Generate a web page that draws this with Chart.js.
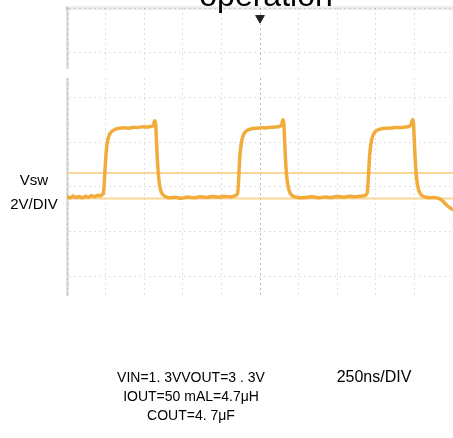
<!DOCTYPE html>
<html>
<head>
<meta charset="utf-8">
<script src="https://cdn.jsdelivr.net/npm/chart.js@4/dist/chart.umd.min.js"></script>
<style>
  html, body { margin: 0; padding: 0; background: #ffffff; }
  #wrap { position: relative; width: 453px; height: 438px; overflow: hidden; }
  canvas { display: block; }
</style>
</head>
<body>
<div id="wrap"><canvas id="c" width="459" height="438"></canvas></div>
<script>
// ---- data (time in ns, voltage in V) ----
const timeNs = [
  0, 20, 40, 60, 80, 100, 120, 140, 160, 180, 200, 215, 228,
  235, 240, 245, 250, 256, 262, 270, 280, 295, 315, 340,
  370, 400, 430, 460, 490, 520, 545, 560, 568, 574,
  578, 583, 588, 594, 600, 608, 620, 640, 665,
  700, 740, 780, 820, 860, 900, 940, 980, 1020, 1060, 1090,
  1105, 1110, 1115, 1120, 1126, 1133, 1142, 1155, 1175, 1200,
  1230, 1260, 1290, 1320, 1350, 1375, 1390, 1398, 1404,
  1408, 1413, 1418, 1424, 1431, 1440, 1455, 1480, 1510,
  1550, 1590, 1630, 1670, 1710, 1750, 1790, 1830, 1870, 1910, 1935,
  1945, 1950, 1955, 1960, 1966, 1973, 1982, 1995, 2015, 2040,
  2070, 2100, 2130, 2160, 2190, 2215, 2230, 2238, 2244,
  2248, 2253, 2258, 2264, 2271, 2280, 2295, 2320, 2345,
  2370, 2395, 2415, 2435, 2455, 2475, 2500
];
const vswVolts = [
  0.05, 0.00, 0.08, 0.02, 0.06, 0.00, 0.07, 0.03, 0.10, 0.05, 0.12, 0.08, 0.15,
  0.20, 0.50, 1.10, 1.70, 2.20, 2.50, 2.75, 2.90, 3.00, 3.08, 3.12,
  3.14, 3.12, 3.16, 3.15, 3.18, 3.17, 3.20, 3.25, 3.45, 3.30,
  2.80, 2.00, 1.40, 0.90, 0.55, 0.30, 0.15, 0.05, 0.00,
  0.03, -0.02, 0.04, 0.00, 0.05, 0.02, 0.06, 0.03, 0.07, 0.04, 0.10,
  0.20, 0.60, 1.30, 1.90, 2.30, 2.60, 2.80, 2.95, 3.05, 3.10,
  3.12, 3.14, 3.13, 3.16, 3.17, 3.20, 3.28, 3.50, 3.35,
  2.80, 2.00, 1.40, 0.90, 0.55, 0.30, 0.12, 0.04, 0.00,
  0.02, 0.05, 0.00, 0.04, 0.02, 0.06, 0.03, 0.07, 0.05, 0.08, 0.12,
  0.25, 0.70, 1.30, 1.90, 2.30, 2.60, 2.80, 2.95, 3.05, 3.10,
  3.12, 3.13, 3.15, 3.14, 3.17, 3.20, 3.30, 3.50, 3.35,
  2.80, 2.00, 1.40, 0.90, 0.55, 0.30, 0.12, 0.04, 0.00,
  0.02, 0.00, -0.05, -0.15, -0.30, -0.42, -0.55
];
const cursorLevels = [1.11, -0.03];          // two horizontal cursor lines (V)
const triggerPoint = [{ x: 1250, y: 8.05 }];  // trigger marker
const xGridNs = [0, 250, 500, 750, 1000, 1250, 1500, 1750, 2000, 2250, 2500];
const yGridVolts = [-3.5, -1.5, 0.5, 2.5, 4.5, 6.5, 8.5];
const gapBand = [5.38, 5.78];

const titleText = 'operation';
const yLabelLines = ['Vsw', '2V/DIV'];
const condLines = ['VIN=1. 3VVOUT=3 . 3V', 'IOUT=50 mAL=4.7μH', 'COUT=4. 7μF'];
const timeBaseText = '250ns/DIV';

const tracePoints = timeNs.map((t, i) => ({ x: t, y: vswVolts[i] }));
const FONT = '"Liberation Sans", Arial, Helvetica, sans-serif';

const annotate = {
  id: 'annotate',
  beforeDatasetsDraw(chart) {
    const { ctx, chartArea, scales } = chart;
    const y1 = scales.y.getPixelForValue(gapBand[1]);
    const y2 = scales.y.getPixelForValue(gapBand[0]);
    ctx.save();
    ctx.fillStyle = '#ffffff';
    ctx.fillRect(chartArea.left - 3, y1, chartArea.right - chartArea.left + 6, y2 - y1);
    ctx.restore();
  },
  afterDraw(chart) {
    const { ctx } = chart;
    ctx.save();
    ctx.fillStyle = '#000000';
    ctx.textAlign = 'center';
    ctx.textBaseline = 'alphabetic';
    ctx.font = '32px ' + FONT;
    ctx.fillText(titleText, 266, 6);
    ctx.textBaseline = 'middle';
    ctx.font = '15px ' + FONT;
    ctx.fillText(yLabelLines[0], 34, 181);
    ctx.fillText(yLabelLines[1], 34, 205);
    ctx.font = '14px ' + FONT;
    ctx.fillText(condLines[0], 191, 378);
    ctx.fillText(condLines[1], 191, 397);
    ctx.fillText(condLines[2], 191, 416);
    ctx.font = '16px ' + FONT;
    ctx.fillText(timeBaseText, 374, 378);
    ctx.restore();
  }
};

new Chart(document.getElementById('c'), {
  type: 'line',
  data: {
    datasets: [
      {
        data: tracePoints,
        borderColor: 'rgba(240,168,50,0.95)',
        borderWidth: 3.5,
        pointRadius: 0,
        cubicInterpolationMode: 'monotone',
        order: 1
      },
      {
        data: [{ x: xGridNs[0], y: cursorLevels[0] }, { x: xGridNs[xGridNs.length - 1], y: cursorLevels[0] }],
        borderColor: 'rgba(248,200,120,0.75)',
        borderWidth: 2,
        pointRadius: 0,
        order: 2
      },
      {
        data: [{ x: xGridNs[0], y: cursorLevels[1] }, { x: xGridNs[xGridNs.length - 1], y: cursorLevels[1] }],
        borderColor: 'rgba(248,200,120,0.75)',
        borderWidth: 2,
        pointRadius: 0,
        order: 2
      },
      {
        data: triggerPoint,
        showLine: false,
        pointStyle: 'triangle',
        rotation: 180,
        pointRadius: 5,
        backgroundColor: '#222222',
        borderColor: '#222222',
        order: 0
      }
    ]
  },
  options: {
    responsive: false,
    animation: false,
    devicePixelRatio: 1,
    layout: { padding: { left: 67, right: 0, top: 8, bottom: 143 } },
    plugins: { legend: { display: false }, title: { display: false }, tooltip: { enabled: false } },
    scales: {
      x: {
        type: 'linear',
        min: 0, max: 2500,
        afterBuildTicks: (s) => { s.ticks = xGridNs.map(v => ({ value: v })); },
        ticks: { display: false },
        grid: {
          drawTicks: false,
          color: (c) => (c.tick && c.tick.value === 1250) ? 'rgba(0,0,0,0.28)' : 'rgba(0,0,0,0.12)',
          lineWidth: 1
        },
        border: { display: false, dash: [2, 3] }
      },
      xTop: {
        type: 'linear',
        position: 'top',
        min: 0, max: 2500,
        ticks: { display: false },
        grid: { display: false, drawTicks: false },
        border: { display: true, color: 'rgba(0,0,0,0.07)', width: 4 }
      },
      y: {
        type: 'linear',
        min: -4.35, max: 8.5,
        afterBuildTicks: (s) => { s.ticks = yGridVolts.map(v => ({ value: v })); },
        ticks: { display: false },
        grid: { drawTicks: false, color: 'rgba(0,0,0,0.12)', lineWidth: 1 },
        border: { display: true, color: 'rgba(0,0,0,0.12)', width: 3, dash: [2, 3] }
      }
    }
  },
  plugins: [annotate]
});
</script>
</body>
</html>
